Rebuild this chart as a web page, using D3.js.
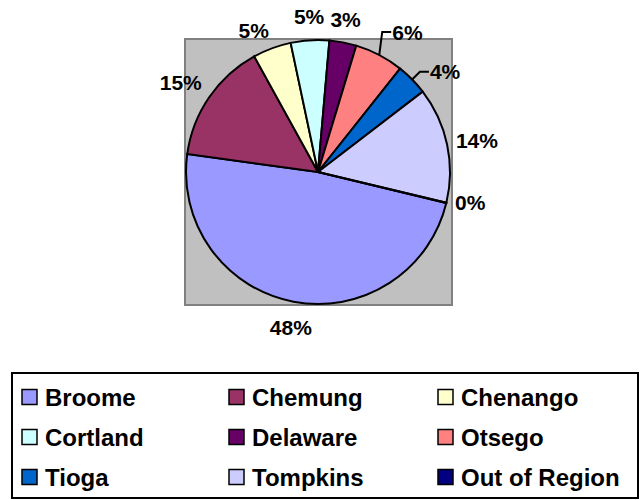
<!doctype html>
<html>

<head>
    <title>county pie</title>
    <script src="https://d3js.org/d3.v7.min.js"></script>
</head>

<style>
    body { margin: 0; background: #fff; }
    text { font-family: "Liberation Sans", Arial, sans-serif; font-weight: bold; fill: #000; }
    .label { font-size: 21px; }
    .legend { font-size: 24px; }
</style>

<body>

    <script>

    // data
    var counties = ['Broome', 'Chemung', 'Chenango', 'Cortland', 'Delaware', 'Otsego', 'Tioga', 'Tompkins', 'Out of Region'];
    var shares = [48.4, 14.8, 4.7, 4.7, 3.3, 6.0, 3.9, 14.15, 0.05];
    var colors = ['#9999FF', '#993366', '#FFFFCC', '#CCFFFF', '#660066', '#FF8080', '#0066CC', '#CCCCFF', '#000080'];
    var leaderCounties = ['Otsego', 'Tioga'];

    // canvas
    var canvasWidth = 642;
    var canvasHeight = 500;

    var svg = d3.select('body')
                .append('svg')
                .attr('width', canvasWidth)
                .attr('height', canvasHeight);

    // plot area
    var plot = { x: 185, y: 39, w: 267, h: 266 };
    svg.append('rect')
       .attr('x', plot.x)
       .attr('y', plot.y)
       .attr('width', plot.w)
       .attr('height', plot.h)
       .attr('fill', '#C0C0C0')
       .attr('stroke', '#808080')
       .attr('stroke-width', 2);

    var cx = 318, cy = 172, radius = 132;
    var startAngle = 103.6 * Math.PI / 180;

    var table = counties.map(function(c, i) {
        return { county: c, value: shares[i], color: colors[i] };
    });

    var pie = d3.pie()
                .sort(null)
                .value(function(d) { return d.value; })
                .startAngle(startAngle)
                .endAngle(startAngle + 2 * Math.PI);

    var arc = d3.arc()
                .innerRadius(0)
                .outerRadius(radius);

    var arcs = pie(table);

    var pieGroup = svg.append('g')
                      .attr('transform', 'translate(' + cx + ', ' + cy + ')');

    pieGroup.selectAll('path')
            .data(arcs)
            .enter()
            .append('path')
            .attr('d', arc)
            .attr('fill', function(d) { return d.data.color; })
            .attr('stroke', '#000')
            .attr('stroke-width', 2)
            .attr('stroke-linejoin', 'miter');

    // labels
    function polar(a, r) {
        return [r * Math.sin(a), -r * Math.cos(a)];
    }

    var labelGroup = pieGroup.append('g');

    arcs.forEach(function(d) {
        var mid = (d.startAngle + d.endAngle) / 2;
        var s = Math.sin(mid), c = Math.cos(mid);
        var txt = Math.round(d.value) + '%';

        if (leaderCounties.indexOf(d.data.county) >= 0) {
            // label pulled out with a leader line
            var isOtsego = d.data.county === 'Otsego';
            var p0 = polar(mid, radius);
            var p1 = isOtsego ? polar(mid - 3 * Math.PI / 180, radius + 22) : polar(mid, radius + 11);
            var p2 = [p1[0] + 9, p1[1]];
            labelGroup.append('polyline')
                      .attr('points', [p0, p1, p2].map(function(p) { return p.join(','); }).join(' '))
                      .attr('fill', 'none')
                      .attr('stroke', '#000')
                      .attr('stroke-width', 2);
            labelGroup.append('text')
                      .attr('class', 'label')
                      .attr('x', p2[0] + 1)
                      .attr('y', p2[1])
                      .attr('dy', '0.36em')
                      .text(txt);
            return;
        }

        var p = polar(mid, radius + (Math.abs(s) > 0.25 ? 9 : 14));
        var anchor = s > 0.25 ? 'start' : (s < -0.25 ? 'end' : 'middle');
        var dy = c > 0.3 ? '-0.1em' : (c < -0.3 ? '0.95em' : '0.26em');
        labelGroup.append('text')
                  .attr('class', 'label')
                  .attr('x', p[0])
                  .attr('y', p[1])
                  .attr('dy', dy)
                  .style('text-anchor', anchor)
                  .text(txt);
    });

    // legend
    svg.append('rect')
       .attr('x', 12)
       .attr('y', 373)
       .attr('width', 626)
       .attr('height', 125)
       .attr('fill', '#fff')
       .attr('stroke', '#000')
       .attr('stroke-width', 2);

    var colX = d3.scaleOrdinal().domain([0, 1, 2]).range([22, 229, 438]);
    var rowY = d3.scaleOrdinal().domain([0, 1, 2]).range([397, 437, 477]);

    var legend = svg.selectAll('.legendItem')
                    .data(table)
                    .enter()
                    .append('g')
                    .attr('class', 'legendItem')
                    .attr('transform', function(d, i) {
                        return 'translate(' + colX(i % 3) + ', ' + rowY(Math.floor(i / 3)) + ')';
                    });

    legend.append('rect')
          .attr('x', 0)
          .attr('y', -7.5)
          .attr('width', 15)
          .attr('height', 15)
          .attr('fill', function(d) { return d.color; })
          .attr('stroke', '#000')
          .attr('stroke-width', 1.5);

    legend.append('text')
          .attr('class', 'legend')
          .attr('x', 23)
          .attr('y', 0)
          .attr('dy', '0.36em')
          .text(function(d) { return d.county; });

    </script>

</body>

</html>
